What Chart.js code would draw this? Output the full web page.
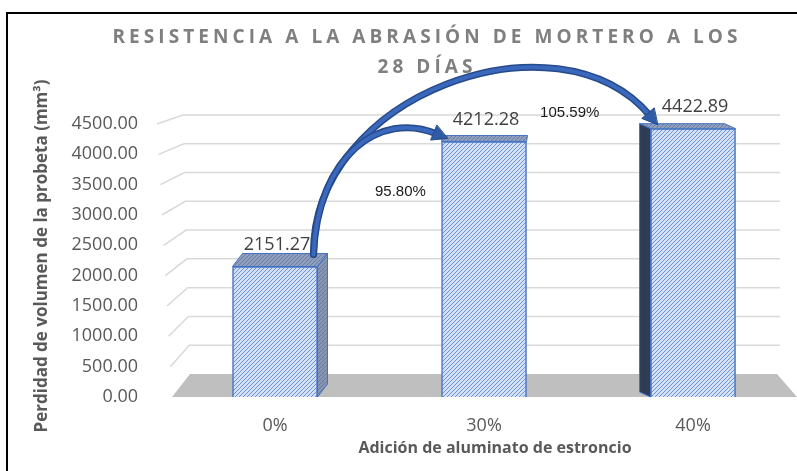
<!DOCTYPE html>
<html>
<head>
<meta charset="utf-8">
<script src="https://cdn.jsdelivr.net/npm/chart.js@4.4.1/dist/chart.umd.min.js"></script>
<style>
  html, body { margin: 0; padding: 0; background: #fff; overflow: hidden; }
  #wrap { width: 797px; height: 471px; }
</style>
</head>
<body>
<div id="wrap"><canvas id="chart" width="797" height="471"></canvas></div>
<script>
// Data
const categories = ['0%', '30%', '40%'];
const lossValues = [2151.27, 4212.28, 4422.89];
const increaseLabels = ['95.80%', '105.59%'];
const yMax = 4500;
const yStep = 500;

// Texts
const titleLines = ['RESISTENCIA A LA ABRASIÓN DE MORTERO A LOS', '28 DÍAS'];
const yTitle = 'Perdidad de volumen de la probeta (mm³)';
const xTitle = 'Adición de aluminato de estroncio';

// 3D look of each bar (depth offset in px), fake perspective like the Excel chart
const depthX = [10, 1, -11];
const depthY = [-13, -6, -5];

const canvas = document.getElementById('chart');
const ctx = canvas.getContext('2d');

// Diagonal hatch pattern
function makeHatch(bg, line) {
  const c = document.createElement('canvas');
  c.width = 4; c.height = 4;
  const x = c.getContext('2d');
  x.fillStyle = bg;
  x.fillRect(0, 0, 4, 4);
  x.strokeStyle = line;
  x.lineWidth = 1;
  x.beginPath();
  x.moveTo(0, 4); x.lineTo(4, 0);
  x.moveTo(-1, 1); x.lineTo(1, -1);
  x.moveTo(3, 5); x.lineTo(5, 3);
  x.stroke();
  return ctx.createPattern(c, 'repeat');
}

const frontHatch = makeHatch('#d3e0f4', '#6f93d4');
const topHatch = makeHatch('#8e9fbe', '#6c7fa3');
const sideHatch = makeHatch('#8595b3', '#6a7b9c');

// Draws one curved arrow
function drawArrow(c, p0, c1, c2, p3) {
  const ang = Math.atan2(p3.y - c2.y, p3.x - c2.x);
  const head = 15;
  const tail = { x: p3.x - Math.cos(ang) * head * 0.8, y: p3.y - Math.sin(ang) * head * 0.8 };
  c.save();
  c.lineCap = 'round';
  c.beginPath();
  c.moveTo(p0.x, p0.y);
  c.bezierCurveTo(c1.x, c1.y, c2.x, c2.y, tail.x, tail.y);
  c.strokeStyle = '#264a8a';
  c.lineWidth = 7;
  c.stroke();
  c.strokeStyle = '#3a68bd';
  c.lineWidth = 4;
  c.stroke();
  const px = -Math.sin(ang), py = Math.cos(ang);
  const bx = p3.x - Math.cos(ang) * head, by = p3.y - Math.sin(ang) * head;
  c.beginPath();
  c.moveTo(p3.x, p3.y);
  c.lineTo(bx + px * 8, by + py * 8);
  c.lineTo(bx - px * 8, by - py * 8);
  c.closePath();
  c.fillStyle = '#2f5aa6';
  c.fill();
  c.strokeStyle = '#264a8a';
  c.lineWidth = 1;
  c.stroke();
  c.restore();
}

const decorPlugin = {
  id: 'decor',
  beforeDraw(chart) {
    const c = chart.ctx;
    c.save();
    // outer frame
    c.strokeStyle = '#000';
    c.lineWidth = 2;
    c.strokeRect(7, 13, 900, 600);

    // title with wide letter spacing
    c.fillStyle = '#7f7f7f';
    c.font = 'bold 19px "Open Sans"';
    c.textBaseline = 'middle';
    c.textAlign = 'left';
    const w0 = c.measureText(titleLines[0]).width;
    const spacing = (625 - w0) / (titleLines[0].length - 1);
    c.letterSpacing = spacing + 'px';
    const centerX = 425;
    titleLines.forEach((line, i) => {
      const w = c.measureText(line).width - spacing;
      c.fillText(line, centerX - w / 2, 38 + i * 30);
    });
    c.letterSpacing = '0px';

    // axis titles
    c.fillStyle = '#595959';
    c.font = 'bold 16px "Open Sans"';
    c.textAlign = 'center';
    c.fillText(xTitle, 495, 448);
    c.font = 'bold 17px "Open Sans"';
    c.translate(42, 256);
    c.rotate(-Math.PI / 2);
    c.fillText(yTitle, 0, 0);
    c.restore();
  },
  beforeDatasetsDraw(chart) {
    const c = chart.ctx;
    const ys = chart.scales.y;
    const area = chart.chartArea;
    const base = ys.getPixelForValue(0);
    const backY = v => base - 23 - (base - ys.getPixelForValue(v)) * 0.949;
    const frontX = v => 172 - 15 * v / yMax;
    const backX = v => 190 - 7 * v / yMax;
    c.save();
    // floor
    c.fillStyle = '#bfbfbf';
    c.beginPath();
    c.moveTo(frontX(0), base);
    c.lineTo(backX(0), backY(0));
    c.lineTo(area.right - 3, backY(0));
    c.lineTo(area.right + 17, base);
    c.closePath();
    c.fill();
    // gridlines on back wall
    c.strokeStyle = '#d9d9d9';
    c.lineWidth = 1.5;
    for (let v = yStep; v <= yMax; v += yStep) {
      c.beginPath();
      c.moveTo(frontX(v), ys.getPixelForValue(v));
      c.lineTo(backX(v), backY(v));
      c.lineTo(area.right, backY(v));
      c.stroke();
    }
    c.restore();
  },
  afterDatasetsDraw(chart) {
    const c = chart.ctx;
    const meta = chart.getDatasetMeta(0);
    const xs = chart.scales.x;
    const ys = chart.scales.y;
    c.save();
    meta.data.forEach((el, i) => {
      const { x, y, width, base } = el.getProps(['x', 'y', 'width', 'base'], true);
      const l = x - width / 2, r = x + width / 2;
      const dx = depthX[i], dy = depthY[i];
      c.lineWidth = 1;
      c.strokeStyle = '#4472c4';
      // top face
      c.beginPath();
      c.moveTo(l, y); c.lineTo(r, y); c.lineTo(r + dx, y + dy); c.lineTo(l + dx, y + dy);
      c.closePath();
      c.fillStyle = topHatch;
      c.fill(); c.stroke();
      // side face
      if (Math.abs(dx) > 3) {
        const sx = dx > 0 ? r : l;
        c.beginPath();
        c.moveTo(sx, y); c.lineTo(sx + dx, y + dy); c.lineTo(sx + dx, base + dy); c.lineTo(sx, base);
        c.closePath();
        c.fillStyle = dx > 0 ? sideHatch : '#2f3c56';
        c.fill(); c.stroke();
      }
      // value label
      c.fillStyle = '#404040';
      c.font = '18px "Open Sans"';
      c.textAlign = 'center';
      c.textBaseline = 'middle';
      c.fillText(lossValues[i].toFixed(2), x + 2, y - 22);
    });

    // arrows from the 0% bar to the other two
    const b = meta.data.map(el => el.getProps(['x', 'y', 'width'], true));
    const start = { x: b[0].x + b[0].width / 2 - 4, y: b[0].y - 12 };
    const end1 = { x: b[1].x - b[1].width / 2 + 6, y: b[1].y - 3 };
    const end2 = { x: b[2].x - b[2].width / 2 + 7, y: b[2].y - 4 };
    drawArrow(c, start, { x: start.x - 2, y: start.y - 160 }, { x: end2.x - 100, y: end2.y - 118 }, end2);
    drawArrow(c, start, { x: start.x + 4, y: start.y - 100 }, { x: end1.x - 67, y: end1.y - 28 }, end1);

    // increase labels
    c.fillStyle = '#1a1a1a';
    c.font = '15px "Liberation Sans"';
    c.textAlign = 'center';
    c.textBaseline = 'middle';
    c.fillText(increaseLabels[0], xs.getPixelForValue(0.6), ys.getPixelForValue(3380));
    c.fillText(increaseLabels[1], xs.getPixelForValue(1.41), ys.getPixelForValue(4680));
    c.restore();
  }
};

new Chart(ctx, {
  type: 'bar',
  data: {
    datasets: [{
      data: lossValues.map((v, i) => ({ x: i, y: v })),
      backgroundColor: frontHatch,
      borderColor: '#4472c4',
      borderWidth: 1.5,
      barThickness: 85
    }]
  },
  options: {
    responsive: false,
    animation: false,
    events: [],
    layout: { padding: { top: 124, right: 17, left: 0, bottom: 0 } },
    plugins: {
      legend: { display: false },
      tooltip: { enabled: false },
      title: { display: false }
    },
    scales: {
      x: {
        type: 'linear',
        offset: false,
        min: -0.5502,
        max: 2.416,
        grid: { display: false, offset: false },
        border: { display: false },
        afterBuildTicks: s => { s.ticks = categories.map((c, i) => ({ value: i })); },
        afterFit: s => { s.height = 74; },
        ticks: {
          padding: 10,
          color: '#595959',
          font: { family: 'Open Sans', size: 18 },
          maxRotation: 0,
          callback: v => categories[v]
        }
      },
      y: {
        min: 0,
        max: yMax,
        grid: { display: false },
        border: { display: false },
        afterFit: s => { s.width = 160; },
        ticks: {
          stepSize: yStep,
          padding: 14,
          color: '#595959',
          font: { family: 'Open Sans', size: 18 },
          callback: v => v.toFixed(2)
        }
      }
    }
  },
  plugins: [decorPlugin]
});
</script>
</body>
</html>
